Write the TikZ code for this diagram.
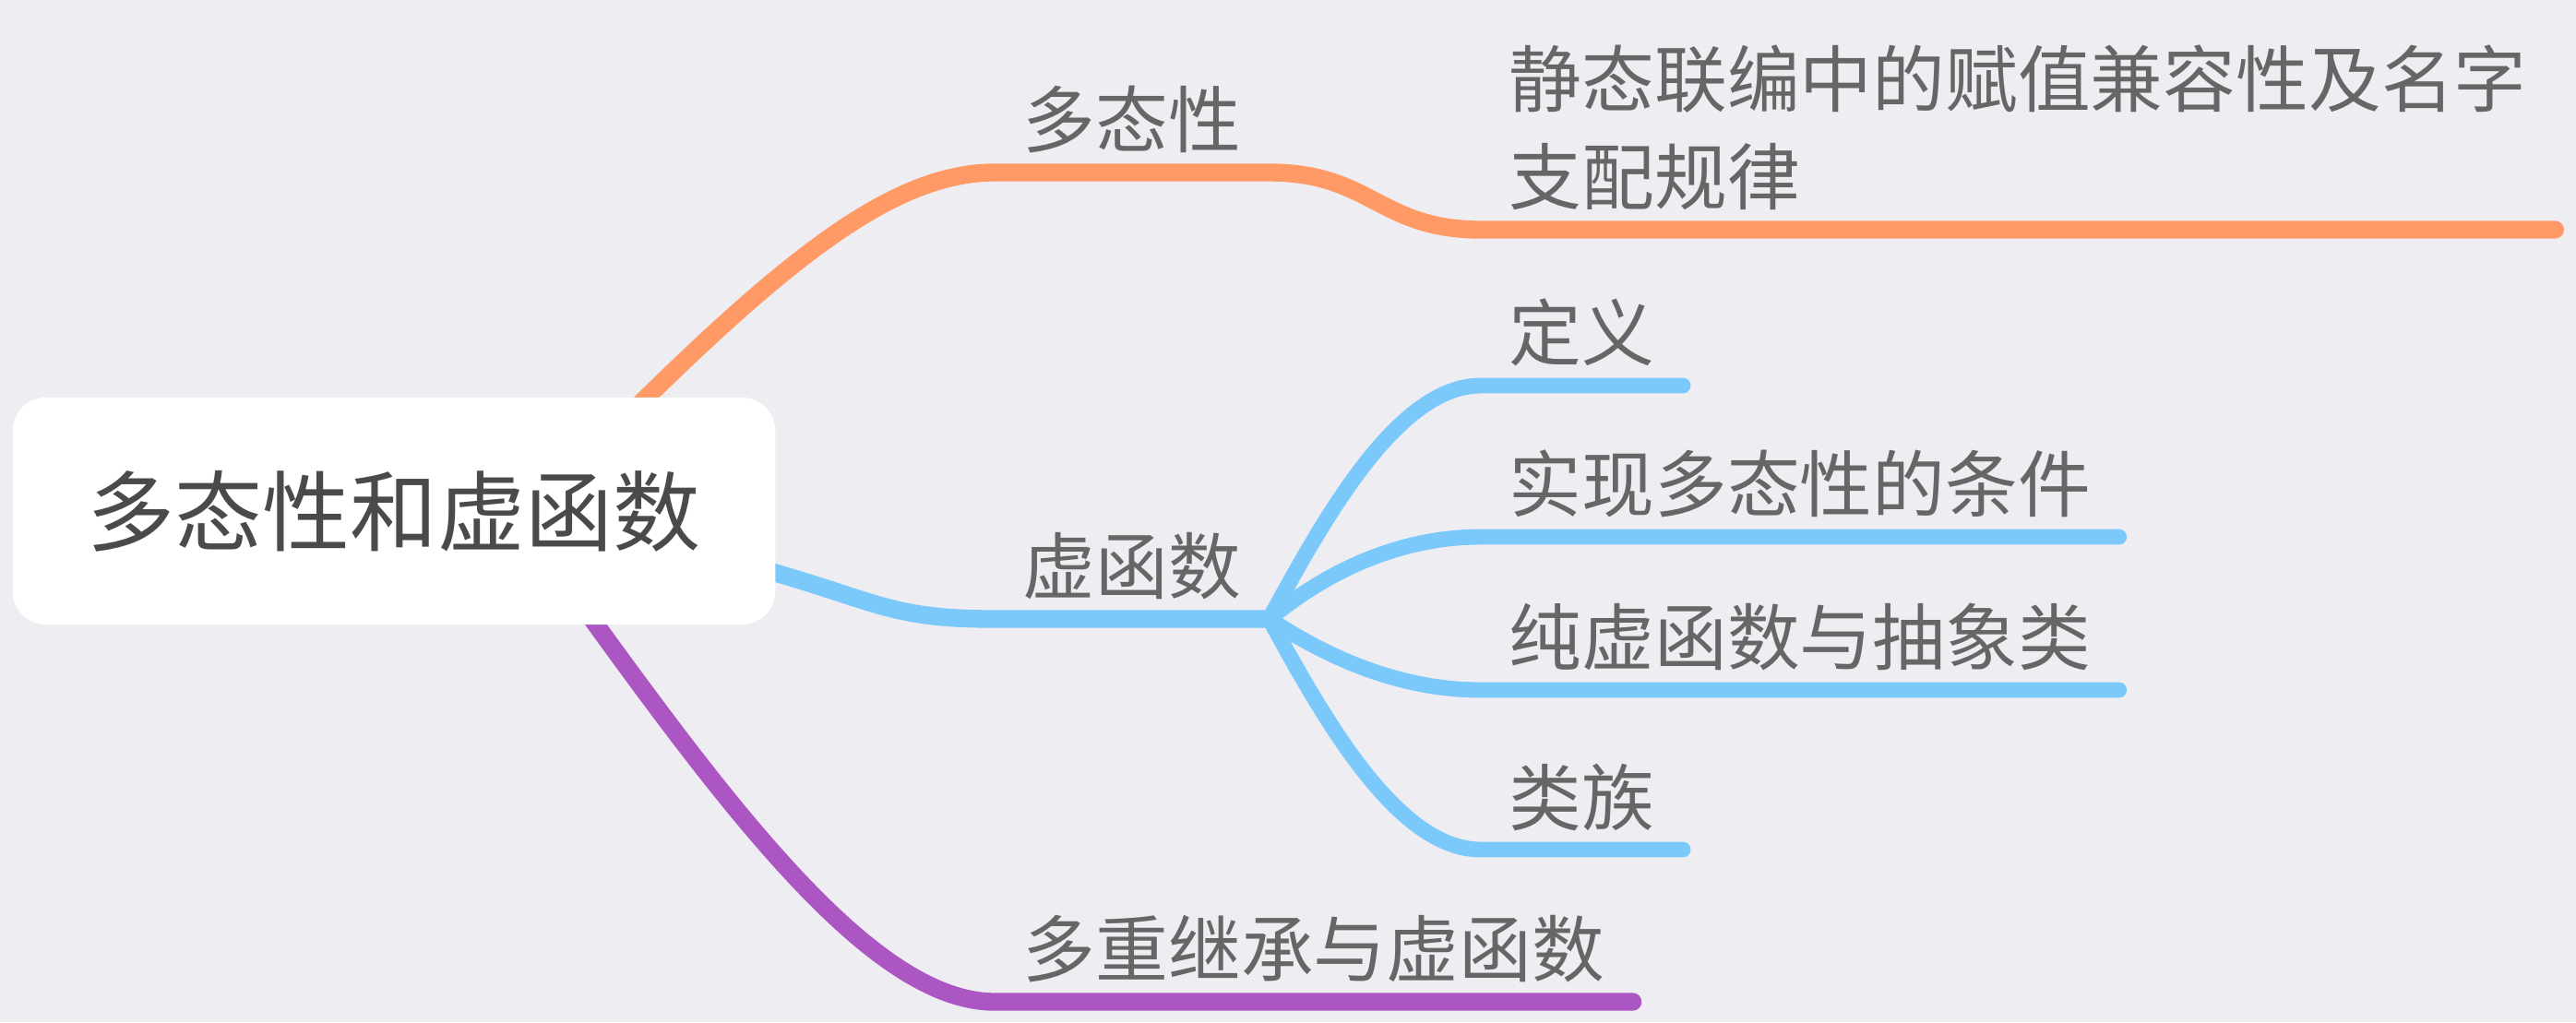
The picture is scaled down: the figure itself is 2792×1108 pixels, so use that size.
\documentclass[tikz,border=0pt]{standalone}
\usepackage{fontspec}
\newfontfamily\cjk{Noto Sans CJK SC}
\definecolor{bgc}{HTML}{EEEDF2}
\definecolor{txt}{HTML}{666666}
\definecolor{rtxt}{HTML}{4A4A4A}
\definecolor{orng}{HTML}{FF9A66}
\definecolor{sky}{HTML}{7BC8FB}
\definecolor{plum}{HTML}{AB56C2}
\pgfdeclarelayer{bg}\pgfdeclarelayer{edges}
\pgfsetlayers{bg,edges,main}
\tikzset{
  topic/.style={anchor=south west,inner xsep=0.3cm,inner ysep=0.2cm,text=txt,
    align=left,font={\cjk\fontsize{22.4}{30.3}\selectfont}},
  branch/.style={line width=5.5pt,line cap=round},
  twig/.style={line width=4.8pt,line cap=round,sky}
}
\begin{document}
\begin{tikzpicture}[x=0.01cm,y=-0.01cm]
  \begin{pgfonlayer}{bg}
    \fill[bgc] (0,0) rectangle (2792,1108);
  \end{pgfonlayer}
  \useasboundingbox (0,0) rectangle (2792,1108);
  \node[fill=white,rounded corners=0.36cm,minimum width=8.26cm,minimum height=2.46cm,
    text=rtxt,font={\cjk\fontsize{27}{32}\selectfont}] (root) at (427,554) {多态性和虚函数};
  % first level
  \node[topic] (poly) at (1078,187) {多态性};
  \node[topic] (virt) at (1078,671) {虚函数};
  \node[topic] (multi) at (1078,1086) {多重继承与虚函数};
  % second level
  \node[topic] (static) at (1605,249) {静态联编中的赋值兼容性及名字\\支配规律};
  \node[topic] (def) at (1605,418) {定义};
  \node[topic] (cond) at (1605,582) {实现多态性的条件};
  \node[topic] (pure) at (1605,748) {纯虚函数与抽象类};
  \node[topic] (family) at (1605,921) {类族};
  \begin{pgfonlayer}{edges}
    \draw[branch,orng] ([shift={(-180,40)}]root.north east) .. controls +(190,-190) and +(-110,0) .. (poly.south west) -- (poly.south east)
      .. controls +(110,0) and +(-110,0) .. (static.south west) -- (static.south east);
    \draw[branch,sky] ([shift={(-40,56)}]root.east) .. controls +(150,40) and +(-120,0) .. (virt.south west) -- (virt.south east);
    \draw[branch,plum] ([shift={(-250,-77)}]root.south east) .. controls +(180,250) and +(-140,0) .. (multi.south west) -- (multi.south east);
    \foreach \n/\d in {def/-110,cond/-50,pure/40,family/110}
      \draw[twig] (virt.south east) .. controls +(60,\d) and +(-90,0) .. (\n.south west) -- (\n.south east);
  \end{pgfonlayer}
\end{tikzpicture}
\end{document}
